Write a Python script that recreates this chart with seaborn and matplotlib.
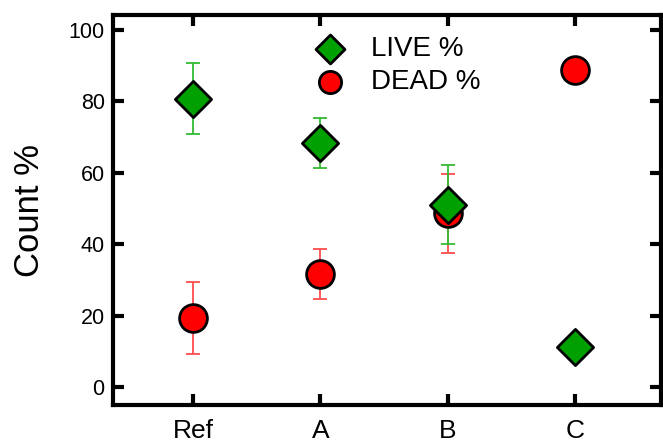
import pandas as pd
import seaborn as sns
import matplotlib.pyplot as plt

samples = ['Ref', 'A', 'B', 'C']
live = [80.7, 68.3, 51.0, 11.2]
live_err = [10.0, 7.0, 11.0, 0.0]
dead = [19.3, 31.5, 48.6, 88.8]
dead_err = [10.0, 7.0, 11.0, 0.0]

df = pd.DataFrame({
    'sample': samples * 2,
    'value': live + dead,
    'err': live_err + dead_err,
    'group': ['LIVE %'] * 4 + ['DEAD %'] * 4,
})

sns.set_style('ticks', {'axes.edgecolor': 'black', 'text.color': 'black',
                        'axes.labelcolor': 'black', 'xtick.color': 'black',
                        'ytick.color': 'black'})
plt.rcParams['font.family'] = ['Liberation Sans', 'DejaVu Sans']

fig = plt.figure(figsize=(6.63, 4.47), dpi=100)
ax = fig.add_axes([0.1704, 0.094, 0.827, 0.872])

d_live = df[df['group'] == 'LIVE %']
d_dead = df[df['group'] == 'DEAD %']

# error bars under the markers
ax.errorbar(d_dead['sample'], d_dead['value'], yerr=d_dead['err'], fmt='none',
            ecolor='#ff4d4d', elinewidth=1.3, capsize=5, capthick=1.3, zorder=1)
ax.errorbar(d_live['sample'], d_live['value'], yerr=d_live['err'], fmt='none',
            ecolor='#33bb33', elinewidth=1.3, capsize=5, capthick=1.3, zorder=1)

sns.scatterplot(data=d_dead, x='sample', y='value', marker='o', color='#ff0000',
                s=400, edgecolor='black', linewidth=2, ax=ax, zorder=3, label='DEAD %')
sns.scatterplot(data=d_live, x='sample', y='value', marker='D', color='#00a000',
                s=340, edgecolor='black', linewidth=2, ax=ax, zorder=4, label='LIVE %')

ax.set_xlim(-0.63, 3.68)
ax.set_ylim(-5, 104)
ax.set_yticks([0, 20, 40, 60, 80, 100])
ax.set_xlabel('')
ax.set_ylabel('Count %', fontsize=25, labelpad=16)

for s in ax.spines.values():
    s.set_linewidth(3)
    s.set_visible(True)
    s.set_color('black')
ax.tick_params(axis='both', direction='in', length=8, width=3,
               top=True, right=True, colors='black')
ax.tick_params(axis='y', labelsize=15.5, pad=6)
ax.tick_params(axis='x', labelsize=19, pad=10)

h, l = ax.get_legend_handles_labels()
leg = ax.legend(h[::-1], l[::-1], loc='upper left', bbox_to_anchor=(0.30, 1.01),
                frameon=False, fontsize=20, handletextpad=0.45, labelspacing=0.25,
                markerscale=0.8)

fig.savefig('out.png', dpi=100)
